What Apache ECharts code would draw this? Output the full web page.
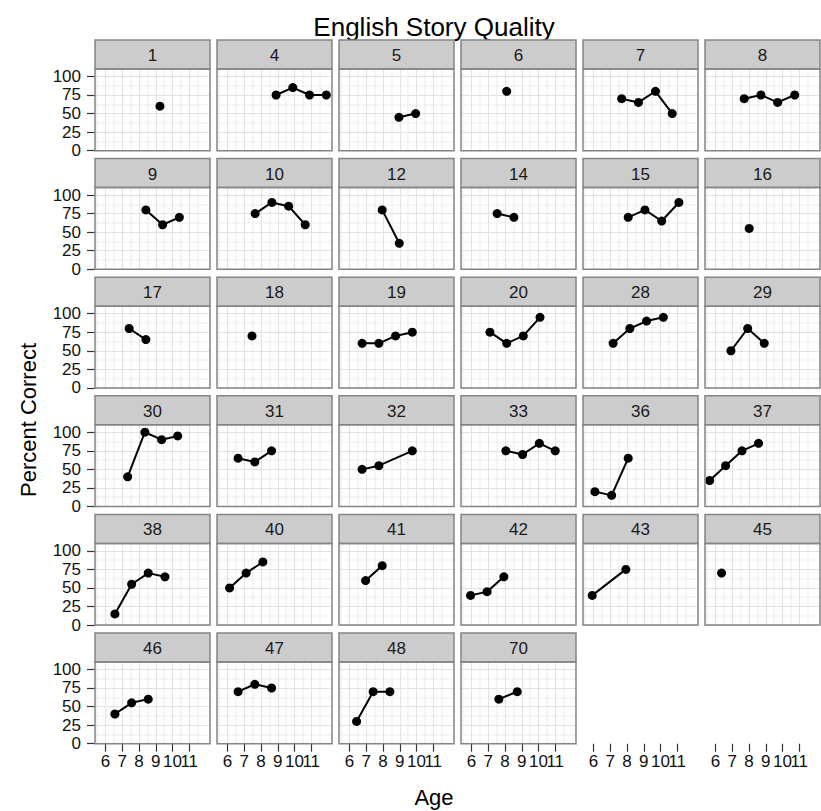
<!DOCTYPE html>
<html><head><meta charset="utf-8">
<script src="https://cdn.jsdelivr.net/npm/echarts@6/dist/echarts.min.js"></script>
<style>html,body{margin:0;padding:0;background:#fff}#c{width:821px;height:811px}</style>
</head><body><div id="c"></div>
<script>
// ---- data ----
const panelIds = ['1','4','5','6','7','8','9','10','12','14','15','16','17','18','19','20','28','29','30','31','32','33','36','37','38','40','41','42','43','45','46','47','48','70'];
const ageValues = [
  [9.25],[8.9,9.9,10.9,11.9],[8.95,9.95],[8.1],[7.68,8.68,9.7,10.7],[7.71,8.71,9.71,10.73],
  [8.41,9.41,10.41],[7.65,8.65,9.65,10.64],[7.95,8.97],[7.53,8.53],[8.07,9.07,10.07,11.1],[8.01],
  [7.41,8.41],[7.46],[6.75,7.75,8.75,9.75],[7.1,8.1,9.09,10.09],[7.17,8.17,9.17,10.17],[6.92,7.92,8.91],
  [7.32,8.35,9.35,10.31],[6.63,7.63,8.63],[6.75,7.75,9.75],[8.05,9.05,10.05,11.0],[6.08,7.08,8.07],[5.65,6.6,7.58,8.57],
  [6.56,7.56,8.55,9.55],[6.12,7.11,8.11],[6.96,7.95],[5.94,6.93,7.93],[5.92,7.93],[6.36],
  [6.56,7.56,8.55],[6.63,7.63,8.63],[6.42,7.41,8.41],[7.63,8.73]
];
const pctValues = [
  [60],[75,85,75,75],[45,50],[80],[70,65,80,50],[70,75,65,75],
  [80,60,70],[75,90,85,60],[80,35],[75,70],[70,80,65,90],[55],
  [80,65],[70],[60,60,70,75],[75,60,70,95],[60,80,90,95],[50,80,60],
  [40,100,90,95],[65,60,75],[50,55,75],[75,70,85,75],[20,15,65],[35,55,75,85],
  [15,55,70,65],[50,70,85],[60,80],[40,45,65],[40,75],[70],
  [40,55,60],[70,80,75],[30,70,70],[60,70]
];
const xTickValues = [6,7,8,9,10,11];
const xLabelsEven = [6,8,10];
const xLabelsOdd = [7,9,11];
const yTickValues = [0,25,50,75,100];
const xMinorValues = [5.5,6.5,7.5,8.5,9.5,10.5,11.5];
const yMinorValues = [12.5,37.5,62.5,87.5];
const titleText = 'English Story Quality';
const xTitle = 'Age';
const yTitle = 'Percent Correct';

// ---- layout ----
const NCOL = 6, NROW = 6;
const X0 = 95, XSTEP = 122, PW = 115;
const Y0 = 40, YSTEP = 118.6, SH = 29, PH = 81.7;
const XMIN = 5.37, XMAX = 12.24, YMIN = 0, YMAX = 110;
const FONT = '"Liberation Sans", Arial, sans-serif';
const MAJOR = '#e2e2e2', MINOR = '#f3f3f3', BORDER = '#848484';
const labelStyle = {hideOverlap: false, margin: 9, fontSize: 17, color: '#111', fontFamily: FONT};

const grids = [], xAxes = [], yAxes = [], series = [], graphics = [];
for (let s = 0; s < NROW * NCOL; s++) {
  const r = Math.floor(s / NCOL), c = s % NCOL;
  const left = X0 + c * XSTEP, top = Y0 + r * YSTEP;
  const plotTop = top + SH;
  const has = s < panelIds.length;
  const bottomRow = r === NROW - 1;
  const g = grids.length;
  grids.push({left: left, top: plotTop, width: PW, height: PH, show: has, backgroundColor: '#fff', borderWidth: 0});
  // minor grid axes
  xAxes.push({type: 'value', gridIndex: g, position: 'top', min: XMIN, max: XMAX, show: has, z: 0,
    axisLine: {show: false}, axisTick: {show: false, customValues: xMinorValues},
    axisLabel: {show: false, customValues: xMinorValues},
    splitLine: {show: true, lineStyle: {color: MINOR, width: 1.6}}});
  yAxes.push({type: 'value', gridIndex: g, position: 'right', min: YMIN, max: YMAX, show: has, z: 0,
    axisLine: {show: false}, axisTick: {show: false, customValues: yMinorValues},
    axisLabel: {show: false, customValues: yMinorValues},
    splitLine: {show: true, lineStyle: {color: MINOR, width: 1.6}}});
  // major axes
  const xi = xAxes.length;
  xAxes.push({type: 'value', gridIndex: g, position: 'bottom', min: XMIN, max: XMAX, z: 1,
    axisLine: {show: false},
    axisTick: {show: bottomRow, length: 8, customValues: xTickValues, lineStyle: {color: '#333', width: 1.2}},
    axisLabel: Object.assign({show: bottomRow, customValues: xLabelsEven}, labelStyle),
    splitLine: {show: has, lineStyle: {color: MAJOR, width: 1}}});
  const yi = yAxes.length;
  yAxes.push({type: 'value', gridIndex: g, position: 'left', min: YMIN, max: YMAX, z: 1, show: has,
    axisLine: {show: false},
    axisTick: {show: c === 0, length: 8, customValues: yTickValues, lineStyle: {color: '#333', width: 1.2}},
    axisLabel: {show: c === 0, customValues: yTickValues, hideOverlap: false, margin: 14, fontSize: 17, color: '#111', fontFamily: FONT},
    splitLine: {show: true, lineStyle: {color: MAJOR, width: 1}}});
  if (bottomRow) {
    // second label layer (odd ages) so that overlapping labels are all kept
    const g2 = grids.length;
    grids.push({left: left, top: plotTop, width: PW, height: PH, show: false});
    xAxes.push({type: 'value', gridIndex: g2, position: 'bottom', min: XMIN, max: XMAX, z: 1,
      axisLine: {show: false}, axisTick: {show: false, customValues: xLabelsOdd},
      axisLabel: Object.assign({show: true, customValues: xLabelsOdd}, labelStyle),
      splitLine: {show: false}});
    yAxes.push({type: 'value', gridIndex: g2, min: YMIN, max: YMAX, show: false});
  }
  if (!has) continue;
  series.push({type: 'line', xAxisIndex: xi, yAxisIndex: yi, silent: true, animation: false,
    symbol: 'circle', symbolSize: 9, showSymbol: true, clip: false,
    lineStyle: {color: '#000', width: 2}, itemStyle: {color: '#000'},
    data: ageValues[s].map((a, k) => [a, pctValues[s][k]])});
  graphics.push({type: 'rect', z: 50, silent: true, shape: {x: left, y: top, width: PW, height: SH},
    style: {fill: '#cccccc', stroke: BORDER, lineWidth: 1.5}});
  graphics.push({type: 'text', z: 51, silent: true, x: left + PW / 2, y: top + SH / 2 + 1,
    style: {text: panelIds[s], fill: '#1a1a1a', font: '17px ' + FONT, align: 'center', verticalAlign: 'middle'}});
  graphics.push({type: 'rect', z: 50, silent: true, shape: {x: left, y: plotTop, width: PW, height: PH},
    style: {fill: 'none', stroke: BORDER, lineWidth: 1.5}});
}
graphics.push({type: 'text', silent: true, x: 434, y: 27,
  style: {text: titleText, fill: '#000', font: '26px ' + FONT, align: 'center', verticalAlign: 'middle'}});
graphics.push({type: 'text', silent: true, x: 434, y: 797,
  style: {text: xTitle, fill: '#000', font: '22px ' + FONT, align: 'center', verticalAlign: 'middle'}});
graphics.push({type: 'text', silent: true, x: 28, y: 420, rotation: Math.PI / 2,
  style: {text: yTitle, fill: '#000', font: '22px ' + FONT, align: 'center', verticalAlign: 'middle'}});

const chart = echarts.init(document.getElementById('c'), null, {renderer: 'svg', width: 821, height: 811});
chart.setOption({animation: false, backgroundColor: '#fff', grid: grids, xAxis: xAxes, yAxis: yAxes, series: series, graphic: graphics});
</script></body></html>
